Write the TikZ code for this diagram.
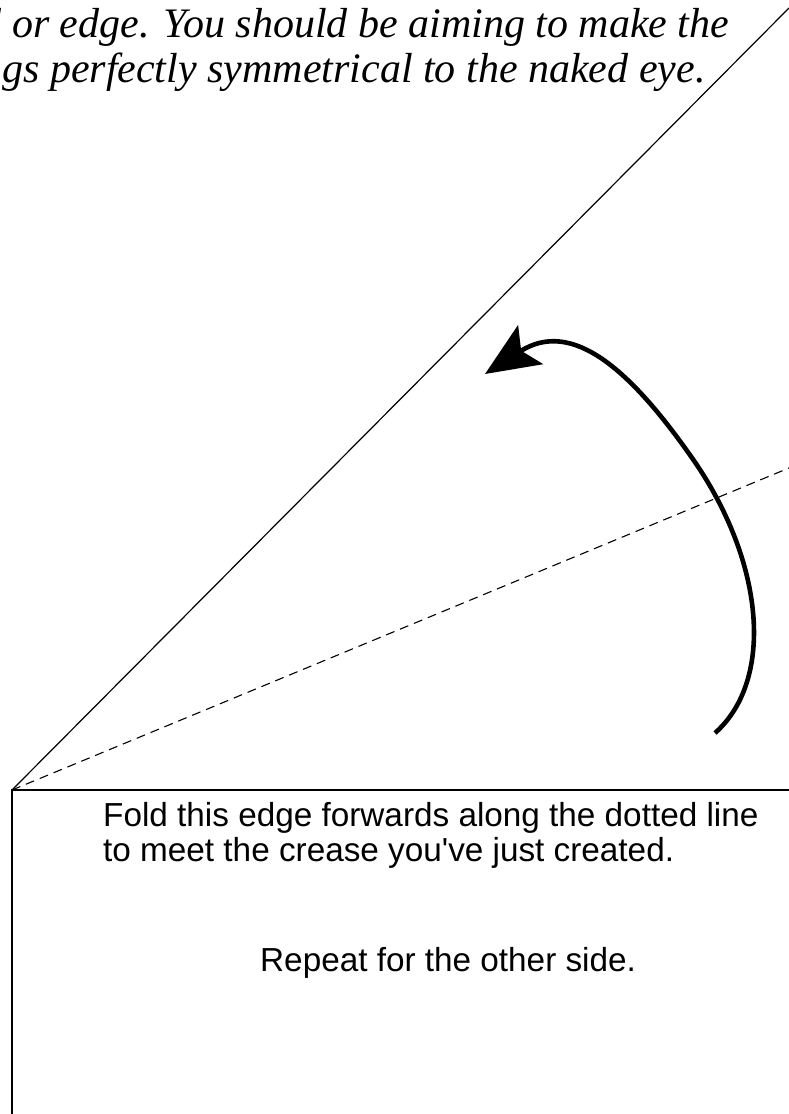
\documentclass[tikz,border=0pt]{standalone}
\usepackage{fontspec}
\setmainfont{Liberation Serif}
\newfontfamily\arialfont{Liberation Sans}
\usetikzlibrary{arrows.meta}
\begin{document}
\begin{tikzpicture}[x=1pt,y=-1pt,
  thinline/.style={line width=1.2pt},
  edgeline/.style={line width=1.5pt},
  foldline/.style={line width=1.1pt, dash pattern=on 9pt off 6pt},
  foldarrow/.style={line width=4.6pt, -{Stealth[length=54pt,width=46pt,inset=11pt]}},
  serifnote/.style={anchor=base west, inner sep=0pt, font=\fontsize{42}{46}\selectfont\itshape},
  sansnote/.style={anchor=base west, inner sep=0pt, font=\arialfont\fontsize{33.3}{37}\selectfont}]
\useasboundingbox (0,0) rectangle (789,1114);
\coordinate (corner) at (12,790);
\coordinate (diagtop) at (789,8);
\coordinate (dashend) at (789,468);
\coordinate (rectright) at (789,790);
\coordinate (rectbottom) at (12,1114);
\coordinate (arrowstart) at (715,733);
\coordinate (arrowtip) at (485,374);
\node[serifnote] (top1) at (12,37) {\llap{d }or edge. You should be aiming to make the};
\node[serifnote] (top2) at (2,82) {gs perfectly symmetrical to the naked eye.};
\draw[thinline] (corner) -- (diagtop);
\draw[foldline] (corner) -- (dashend);
\draw[edgeline] (rectbottom) -- (corner) -- (rectright);
\draw[foldarrow] (arrowstart) .. controls (775,680) and (765,560) .. (690,455)
   .. controls (630,370) and (572,318) .. (arrowtip);
\node[sansnote] (t1) at (103,826) {Fold this edge forwards along the dotted line};
\node[sansnote] (t2) at (103,861) {to meet the crease you've just created.};
\node[sansnote] (t3) at (260,971) {Repeat for the other side.};
\end{tikzpicture}
\end{document}
